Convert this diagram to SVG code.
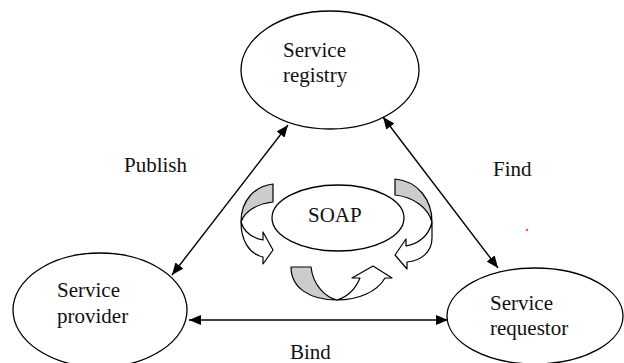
<svg xmlns="http://www.w3.org/2000/svg" width="624" height="363" viewBox="0 0 624 363">
  <style>
    .node { fill: #ffffff; stroke: #000000; stroke-width: 1.3; }
    text { font-family: 'Liberation Serif', 'DejaVu Serif', 'Times New Roman', serif; font-size: 21px; fill: #111111; }
    .conn { stroke: #000000; stroke-width: 1.4; fill: none; }
    .band { fill: #cccccc; stroke: #000000; stroke-width: 1.2; stroke-linejoin: round; }
    .head { fill: #ffffff; stroke: #000000; stroke-width: 1.2; stroke-linejoin: round; }
  </style>
  <defs>
    <marker id="ah" viewBox="0 0 12 10" refX="12" refY="5" markerWidth="12" markerHeight="10" markerUnits="userSpaceOnUse" orient="auto-start-reverse">
      <path d="M0,0 L12,5 L0,10 Z" fill="#000000"/>
    </marker>
  </defs>
  <rect width="624" height="363" fill="#ffffff"/>

  <g id="connectors">
    <line class="conn" x1="172" y1="275" x2="288" y2="125" marker-start="url(#ah)" marker-end="url(#ah)"/>
    <line class="conn" x1="383" y1="117" x2="498" y2="268" marker-start="url(#ah)" marker-end="url(#ah)"/>
    <line class="conn" x1="189" y1="320" x2="448" y2="320" marker-start="url(#ah)" marker-end="url(#ah)"/>
    <text font-family="Liberation Serif, serif" x="124" y="172">Publish</text>
    <text font-family="Liberation Serif, serif" x="493" y="176">Find</text>
    <text font-family="Liberation Serif, serif" x="290" y="359">Bind</text>
  </g>

  <g id="registry">
    <ellipse class="node" cx="330" cy="70" rx="89" ry="59"/>
    <text font-family="Liberation Serif, serif" x="283" y="57">Service</text>
    <text font-family="Liberation Serif, serif" x="283" y="82">registry</text>
  </g>

  <g id="provider">
    <ellipse class="node" cx="100" cy="310" rx="87" ry="57"/>
    <text font-family="Liberation Serif, serif" x="57" y="297">Service</text>
    <text font-family="Liberation Serif, serif" x="57" y="323">provider</text>
  </g>

  <g id="requestor">
    <ellipse class="node" cx="535" cy="316" rx="88" ry="48"/>
    <text font-family="Liberation Serif, serif" x="490" y="310">Service</text>
    <text font-family="Liberation Serif, serif" x="490" y="335">requestor</text>
  </g>

  <g id="soap">
    <ellipse class="node" cx="338" cy="218" rx="66" ry="33"/>
    <text font-family="Liberation Serif, serif" x="308" y="222" font-size="20">SOAP</text>
  </g>

  <g id="cycle-left">
    <path class="band" d="M273,184 L273,202 C257,204 245,211 241,222 C241,200 255,186 273,184 Z"/>
    <path class="head" d="M241,222 C241,240 249,254 263,257 L263,264 L273,250 L263,232 L263,240 C253,238 244,232 241,222 Z"/>
  </g>

  <g id="cycle-right">
    <path class="band" d="M395,179 L395,195 C414,197 428,208 432,222 C432,200 418,181 395,179 Z"/>
    <path class="head" d="M432,222 L432,238 C432,252 421,261 407,262 L407,269 L395,255 L406,239 L406,246 C418,244 429,236 432,222 Z"/>
  </g>

  <g id="cycle-bottom">
    <path class="band" d="M291,267 L311,267 C313,285 325,297 337,300 C310,300 291,288 291,267 Z"/>
    <path class="head" d="M337,300 C358,300 377,292 385,278 L392,278 L373,266 L352,278 L360,278 C355,290 347,297 337,300 Z"/>
  </g>

  <circle cx="527" cy="230" r="1.2" fill="#ff4d4d"/>
</svg>
